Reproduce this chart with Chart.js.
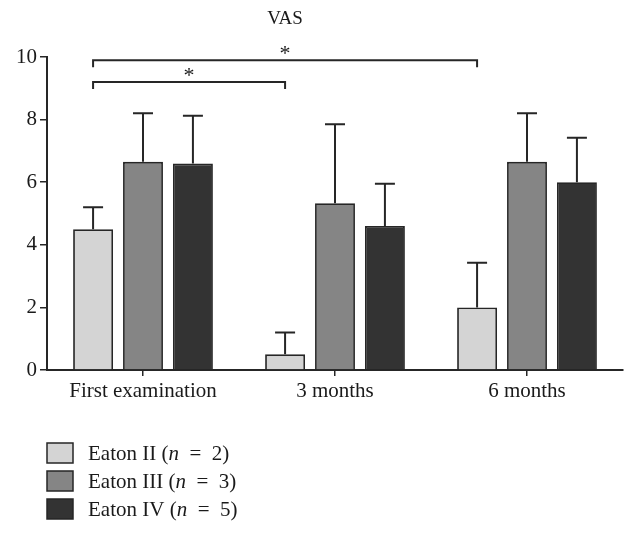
<!DOCTYPE html>
<html>
<head>
<meta charset="utf-8">
<script src="https://cdn.jsdelivr.net/npm/chart.js@4/dist/chart.umd.min.js"></script>
<style>
  html, body { margin: 0; padding: 0; background: #fff; }
  #wrap { width: 638px; height: 535px; position: relative; }
</style>
</head>
<body>
<div id="wrap"><canvas id="vasChart" width="638" height="535"></canvas></div>
<script>
// VAS scores per Eaton stage
const categories = ['First examination', '3 months', '6 months'];
const groupNames = ['Eaton II', 'Eaton III', 'Eaton IV'];
const groupCounts = [2, 3, 5];
const eatonII = [4.5, 0.5, 2.0];
const eatonIII = [6.65, 5.33, 6.65];
const eatonIV = [6.6, 4.6, 6.0];
// upper error (SD) per bar
const errII = [0.7, 0.7, 1.43];
const errIII = [1.55, 2.52, 1.55];
const errIV = [1.52, 1.35, 1.42];
const yTicks = [0, 2, 4, 6, 8, 10];
// significance brackets: [category from, category to, level]
const brackets = [
    [0, 1, 9.2],
    [0, 2, 9.9]
];

const fills = ['#d4d4d4', '#858585', '#333333'];
const serif = '"Liberation Serif", "DejaVu Serif", serif';
const ink = '#1a1a1a';

const values = [eatonII, eatonIII, eatonIV];
const errors = [errII, errIII, errIV];

const datasets = values.map((v, i) => ({
    label: groupNames[i],
    data: v,
    backgroundColor: fills[i],
    borderColor: '#262626',
    borderWidth: 1.8,
    borderSkipped: 'bottom',
    categoryPercentage: 0.78,
    barPercentage: 0.8
}));

// error bars (upper only)
const errorBarPlugin = {
    id: 'errorBars',
    afterDatasetsDraw(chart) {
        const ctx = chart.ctx;
        const y = chart.scales.y;
        ctx.save();
        ctx.strokeStyle = '#262626';
        ctx.lineWidth = 2;
        chart.data.datasets.forEach((ds, di) => {
            chart.getDatasetMeta(di).data.forEach((bar, i) => {
                const top = y.getPixelForValue(ds.data[i] + errors[di][i]);
                ctx.beginPath();
                ctx.moveTo(bar.x, bar.y);
                ctx.lineTo(bar.x, top);
                ctx.moveTo(bar.x - 10, top);
                ctx.lineTo(bar.x + 10, top);
                ctx.stroke();
            });
        });
        ctx.restore();
    }
};

// significance brackets, title and legend
const annotationPlugin = {
    id: 'annotations',
    afterDraw(chart) {
        const ctx = chart.ctx;
        const y = chart.scales.y;
        const bars = chart.getDatasetMeta(0).data;
        ctx.save();
        ctx.strokeStyle = '#262626';
        ctx.lineWidth = 2;
        ctx.fillStyle = ink;
        brackets.forEach(([a, b, level]) => {
            const x1 = bars[a].x, x2 = bars[b].x;
            const py = y.getPixelForValue(level);
            ctx.beginPath();
            ctx.moveTo(x1, py + 7);
            ctx.lineTo(x1, py);
            ctx.lineTo(x2, py);
            ctx.lineTo(x2, py + 7);
            ctx.stroke();
            ctx.font = '22px ' + serif;
            ctx.textAlign = 'center';
            ctx.textBaseline = 'middle';
            ctx.fillText('*', (x1 + x2) / 2, py - 6);
        });

        // title
        ctx.font = '19px ' + serif;
        ctx.textAlign = 'center';
        ctx.textBaseline = 'middle';
        ctx.fillText('VAS', 285, 19);

        // legend
        const lx = 47, rowH = 28, y0 = 443;
        ctx.textAlign = 'left';
        groupNames.forEach((name, i) => {
            const by = y0 + i * rowH;
            ctx.fillStyle = fills[i];
            ctx.fillRect(lx, by, 26, 20);
            ctx.lineWidth = 1.5;
            ctx.strokeStyle = '#262626';
            ctx.strokeRect(lx, by, 26, 20);
            ctx.fillStyle = ink;
            let tx = 88;
            const ty = by + 11;
            const parts = [
                [name + ' (', ''],
                ['n', 'italic '],
                ['  =  ' + groupCounts[i] + ')', '']
            ];
            parts.forEach(([t, style]) => {
                ctx.font = style + '21px ' + serif;
                ctx.fillText(t, tx, ty);
                tx += ctx.measureText(t).width;
            });
        });
        ctx.restore();
    }
};

new Chart(document.getElementById('vasChart').getContext('2d'), {
    type: 'bar',
    data: { labels: categories, datasets: datasets },
    options: {
        responsive: false,
        animation: false,
        layout: { padding: { top: 57, right: 15, bottom: 130, left: 0 } },
        plugins: {
            legend: { display: false },
            tooltip: { enabled: false },
            title: { display: false }
        },
        scales: {
            x: {
                grid: {
                    display: true,
                    offset: false,
                    drawOnChartArea: false,
                    drawTicks: true,
                    tickLength: 6,
                    color: '#262626',
                    lineWidth: 1.5
                },
                border: { display: true, color: '#262626', width: 2 },
                ticks: {
                    color: ink,
                    font: { family: serif, size: 21 },
                    padding: 3
                },
                afterFit(scale) { scale.height = 35; }
            },
            y: {
                min: 0,
                max: 10,
                afterBuildTicks(scale) {
                    scale.ticks = yTicks.map(v => ({ value: v }));
                },
                grid: {
                    display: true,
                    drawOnChartArea: false,
                    drawTicks: true,
                    tickLength: 7,
                    color: '#262626',
                    lineWidth: 1.5
                },
                border: { display: true, color: '#262626', width: 2 },
                ticks: {
                    color: ink,
                    font: { family: serif, size: 21 },
                    padding: 3
                },
                afterFit(scale) { scale.width = 47; }
            }
        }
    },
    plugins: [errorBarPlugin, annotationPlugin]
});
</script>
</body>
</html>
